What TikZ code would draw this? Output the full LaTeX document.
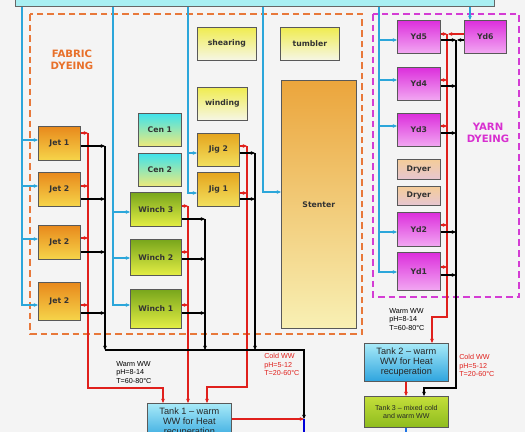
\documentclass[tikz,border=0pt]{standalone}
\usepackage{fontspec}
\setmainfont{Liberation Sans}
\newfontfamily\bxf{DejaVu Sans}
\usetikzlibrary{arrows.meta}
\definecolor{bgc}{HTML}{F4F4F4}
\definecolor{bannerc}{HTML}{A9EFF2}
\definecolor{bluel}{HTML}{2BA6DA}
\definecolor{redl}{HTML}{E0201C}
\definecolor{orgd}{HTML}{E8783A}
\definecolor{magd}{HTML}{D43CD4}
\definecolor{fabtxt}{HTML}{E8702A}
\definecolor{yarntxt}{HTML}{D830D0}
\definecolor{jetT}{HTML}{E8891C}\definecolor{jetB}{HTML}{F6D54A}
\definecolor{cenT}{HTML}{3EE2EC}\definecolor{cenB}{HTML}{EEEA7A}
\definecolor{jigT}{HTML}{E5A51E}\definecolor{jigB}{HTML}{F2E05E}
\definecolor{winT}{HTML}{78A61C}\definecolor{winB}{HTML}{E4EE44}
\definecolor{lyT}{HTML}{F0EC50}\definecolor{lyB}{HTML}{F6F6E6}
\definecolor{stenT}{HTML}{EBA53C}\definecolor{stenB}{HTML}{F8F0B4}
\definecolor{ydT}{HTML}{DC2EDC}\definecolor{ydB}{HTML}{F2A8F2}
\definecolor{dryT}{HTML}{F4CC98}\definecolor{dryB}{HTML}{E6C6D2}
\definecolor{tankT}{HTML}{A8EAF8}\definecolor{tankB}{HTML}{2EA4DE}
\definecolor{tthT}{HTML}{C4DE3A}\definecolor{tthB}{HTML}{8EBC1E}
\newcommand\machbox[7]{\node[mach,#2,minimum width={(#5-#3)*0.75pt},minimum height={(#6-#4)*0.75pt}] (#1) at (#3,#4) {#7};}
\newcommand\outR[3]{\draw[rd,arr] (#1.east |- 0,#3) -- (#2,#3);}
\newcommand\outK[3]{\draw[blk,arr] (#1.east |- 0,#3) -- (#2,#3);}
\newcommand\inB[3]{\draw[bl,arr] (#2,#3) -- (#1.west |- 0,#3);}
\begin{document}
\begin{tikzpicture}[x=0.75pt,y=-0.75pt,
  mach/.style={draw=black!65,line width=0.5pt,inner sep=0pt,anchor=north west,
    font=\bxf\bfseries\fontsize{5.8}{7}\selectfont,text=black!80},
  jet/.style={top color=jetT,bottom color=jetB},
  cen/.style={top color=cenT,bottom color=cenB},
  jig/.style={top color=jigT,bottom color=jigB},
  win/.style={top color=winT,bottom color=winB},
  ly/.style={top color=lyT,bottom color=lyB},
  sten/.style={top color=stenT,bottom color=stenB},
  yd/.style={top color=ydT,bottom color=ydB},
  dry/.style={top color=dryT,bottom color=dryB},
  tank/.style={top color=tankT,bottom color=tankB,font=\fontsize{6.9}{7.5}\selectfont\mdseries,align=center,text=black!85},
  tth/.style={top color=tthT,bottom color=tthB,font=\fontsize{5.3}{6.5}\selectfont\mdseries,align=center,text=black!85},
  arr/.style={-{Stealth[length=3.2pt,width=2.8pt]}},
  bl/.style={draw=bluel,line width=0.8pt},
  rd/.style={draw=redl,line width=0.8pt},
  blk/.style={draw=black,line width=0.8pt},
  lbl/.style={font=\fontsize{5.4}{6.4}\selectfont,align=left,inner sep=0pt,anchor=north west},
  grp/.style={font=\bxf\bfseries\fontsize{7.6}{9}\selectfont,align=center}]
\useasboundingbox (0,0) rectangle (525,432);
\fill[bgc] (0,0) rectangle (525,432);
\begin{scope}
\clip (0,0) rectangle (525,432);
% banner
\node[draw=black!60,fill=bannerc,anchor=south west,inner sep=0pt,
  minimum width={479*0.75pt},minimum height={25*0.75pt}] (top) at (15,7) {};
% group frames
\draw[orgd,line width=1.1pt,dash pattern=on 5pt off 3pt] (30,14) rectangle (362,334);
\draw[magd,line width=1.1pt,dash pattern=on 5pt off 3pt] (373,14) rectangle (519,297);
\node[grp,text=fabtxt] (fab) at (72,60) {FABRIC\\DYEING};
\node[grp,text=yarntxt] (yarn) at (488,133) {YARN\\DYEING};
% machines
\machbox{shear}{ly}{197}{27}{256}{60}{shearing}
\machbox{tumb}{ly}{280}{27}{339}{60}{tumbler}
\machbox{wind}{ly}{197}{87}{247}{120}{winding}
\machbox{cen1}{cen}{138}{113}{181}{146}{Cen 1}
\machbox{cen2}{cen}{138}{153}{181}{186}{Cen 2}
\machbox{jig2}{jig}{197}{133}{239}{166}{Jig 2}
\machbox{jig1}{jig}{197}{172}{239}{206}{Jig 1}
\machbox{w3}{win}{130}{192}{181}{226}{Winch 3}
\machbox{w2}{win}{130}{239}{181}{275}{Winch 2}
\machbox{w1}{win}{130}{289}{181}{328}{Winch 1}
\machbox{jet1}{jet}{38}{126}{80}{160}{Jet 1}
\machbox{jet2a}{jet}{38}{172}{80}{206}{Jet 2}
\machbox{jet2b}{jet}{38}{225}{80}{259}{Jet 2}
\machbox{jet2c}{jet}{38}{282}{80}{320}{Jet 2}
\machbox{sten}{sten}{281}{80}{356}{328}{Stenter}
\machbox{yd5}{yd}{397}{20}{440}{53}{Yd5}
\machbox{yd6}{yd}{464}{20}{506}{53}{Yd6}
\machbox{yd4}{yd}{397}{67}{440}{100}{Yd4}
\machbox{yd3}{yd}{397}{113}{440}{146}{Yd3}
\machbox{dr1}{dry}{397}{159}{440}{179}{Dryer}
\machbox{dr2}{dry}{397}{186}{440}{205}{Dryer}
\machbox{yd2}{yd}{397}{212}{440}{246}{Yd2}
\machbox{yd1}{yd}{397}{252}{440}{290}{Yd1}
\machbox{t2}{tank}{364}{343}{448}{381}{Tank 2 – warm\\WW for Heat\\recuperation}
\machbox{t3}{tth}{364}{396}{448}{427}{Tank 3 – mixed cold\\and warm WW}
\machbox{t1}{tank}{147}{403}{231}{441}{Tank 1 – warm\\WW for Heat\\recuperation}
\coordinate (mix) at (304,419);
% blue supply lines
\draw[bl,arr] (top.south -| 22,0) |- (jet2c.west |- 0,305);
\inB{jet1}{22}{140}\inB{jet2a}{22}{186}\inB{jet2b}{22}{239}
\draw[bl,arr] (top.south -| 113,0) |- (w1.west |- 0,305);
\inB{w3}{113}{212}\inB{w2}{113}{258}
\draw[bl,arr] (top.south -| 188,0) |- (jig1.west |- 0,193);
\inB{jig2}{188}{153}
\draw[bl,arr] (top.south -| 263,0) |- (sten.west |- 0,192);
\draw[bl,arr] (top.south -| 379,0) |- (yd1.west |- 0,272);
\inB{yd5}{379}{40}\inB{yd4}{379}{80}\inB{yd3}{379}{126}\inB{yd2}{379}{232}
\draw[bl,arr] (top.south -| 470,0) -- (yd6.north -| 470,0);
% warm (red) collectors
\draw[rd,arr] (88,133) |- (163,388) -- (t1.north -| 163,0);
\outR{jet1}{88}{133}\outR{jet2a}{88}{186}\outR{jet2b}{88}{238}\outR{jet2c}{88}{305}
\draw[rd,arr] (188,206) -- (t1.north -| 188,0);
\outR{w3}{188}{206}\outR{w2}{188}{252}\outR{w1}{188}{305}
\draw[rd,arr] (247,146) |- (207,387) -- (t1.north -| 207,0);
\outR{jig2}{247}{146}\outR{jig1}{247}{193}
\draw[rd,arr] (447,34) |- (432,317) -- (t2.north -| 432,0);
\outR{yd5}{447}{34}\draw[rd,arr] (yd6.west |- 0,34) -- (448,34);
\outR{yd4}{447}{80}\outR{yd3}{447}{126}\outR{yd2}{447}{225}\outR{yd1}{447}{267}
\draw[rd,arr] (t2.south -| 406,0) -- (t3.north -| 406,0);
\draw[rd,arr] (t1.east |- mix) -- (mix);
% cold (black) collectors
\draw[blk,arr] (105,146) -- (105,350);
\outK{jet1}{105}{146}\outK{jet2a}{105}{199}\outK{jet2b}{105}{252}\outK{jet2c}{105}{313}
\draw[blk,arr] (205,219) -- (205,350);
\outK{w3}{205}{219}\outK{w2}{205}{259}\outK{w1}{205}{313}
\draw[blk,arr] (255,153) -- (255,350);
\outK{jig2}{255}{153}\outK{jig1}{255}{199}
\draw[blk,arr] (105,350) -| (mix);
\draw[blk,arr] (456,40) |- (424,388) -- (t3.north -| 424,0);
\outK{yd5}{456}{40}\draw[blk,arr] (yd6.west |- 0,40) -- (457,40);
\outK{yd4}{456}{86}\outK{yd3}{456}{133}\outK{yd2}{456}{232}\outK{yd1}{456}{275}
% outlets
\draw[draw=blue!85!black,line width=0.8pt] (mix) -- (304,440);
\draw[draw=bluel!70!blue,line width=0.8pt] (t3.south -| 406,0) -- (406,440);
% labels
\node[lbl] (ww1) at (116,361) {Warm WW\\pH=8-14\\T=60-80°C};
\node[lbl,text=redl] (cw1) at (264,353) {Cold WW\\pH=5-12\\T=20-60°C};
\node[lbl] (ww2) at (389,308) {Warm WW\\pH=8-14\\T=60-80°C};
\node[lbl,text=redl] (cw2) at (459,354) {Cold WW\\pH=5-12\\T=20-60°C};
\end{scope}
\end{tikzpicture}
\end{document}
